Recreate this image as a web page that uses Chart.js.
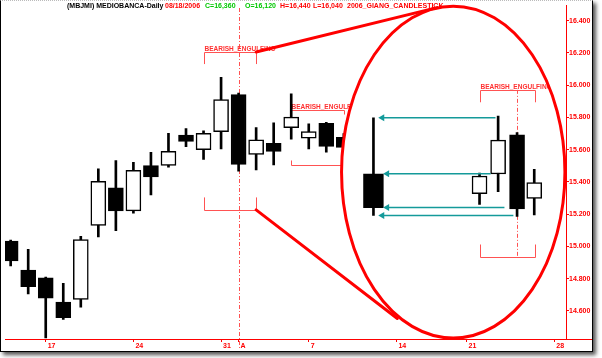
<!DOCTYPE html>
<html>
<head>
<meta charset="utf-8">
<script src="https://cdn.jsdelivr.net/npm/chart.js@4.4.1/dist/chart.umd.min.js"></script>
<style>
  html, body { margin: 0; padding: 0; background: #fff; }
  #frame {
    position: absolute; left: 0; top: 0;
    width: 591px; height: 350px;
    border-left: 1px solid #000; border-right: 1px solid #000;
    border-bottom: 1px solid #000; border-top: 1px dotted #bbb;
    box-shadow: 3px 3px 4px #555;
    background: #fff;
  }
  canvas { display: block; }
</style>
</head>
<body>
<div id="frame"><canvas id="chart" width="591" height="350"></canvas></div>
<script>
// trading days on the chart, x position = index in this list (Aug 15 is a holiday)
const days   = ['07/13','07/14','07/17','07/18','07/19','07/20','07/21','07/24','07/25','07/26',
                '07/27','07/28','07/31','08/01','08/02','08/03','08/04','08/07','08/08','08/09'];
const openV  = [15.033,14.853,14.806,14.655,14.671,15.131,15.363,15.221,15.502,15.502,
                15.690,15.600,15.712,15.941,15.570,15.639,15.737,15.671,15.763,15.676];
const highV  = [15.040,14.982,14.810,14.771,15.063,15.481,15.533,15.522,15.584,15.702,
                15.731,15.717,16.049,15.951,15.737,15.767,15.947,15.761,15.770,15.700];
const lowV   = [14.879,14.706,14.432,14.547,14.624,15.059,15.098,15.206,15.319,15.492,
                15.619,15.539,15.604,15.466,15.475,15.506,15.665,15.604,15.584,15.580];
const closeV = [14.910,14.751,14.679,14.559,15.043,15.404,15.221,15.472,15.431,15.590,
                15.651,15.702,15.910,15.508,15.661,15.590,15.802,15.712,15.620,15.614];

// axis ticks
const xTickPos  = [2, 7, 12, 13, 17, 22, 26, 31];
const xTickText = ['17', '24', '31', 'A', '7', '14', '21', '28'];
const yTicks    = [14.6, 14.8, 15.0, 15.2, 15.4, 15.6, 15.8, 16.0, 16.2, 16.4];

// candles drawn inside the magnifier ellipse
const zoomX     = [26.74, 27.80, 28.88, 29.86];
const zoomOpen  = [15.328, 15.449, 15.692, 15.298];
const zoomHigh  = [15.455, 15.808, 15.706, 15.478];
const zoomLow   = [15.261, 15.339, 15.186, 15.196];
const zoomClose = [15.437, 15.659, 15.233, 15.396];

// the pattern merged into one candle: open, high, low, close
const mergedX    = 20.69;
const mergedOHLC = [15.451, 15.798, 15.192, 15.241];

// teal arrows from the pattern to the merged candle
const arrowY    = [15.798, 15.451, 15.241, 15.192];
const arrowFrom = [27.65, 27.37, 28.16, 28.67];
const arrowTo   = [21.19, 21.47, 21.47, 21.19];

const RED = '#ff0000';
const NOTE_RED = '#ff5252';
const TEAL = '#149a9a';
const FONT = '"Liberation Sans", Arial, sans-serif';

// ellipse (index / price units)
const lensCenter = [25.24, 15.461];
const lensRadius = [6.37, 1.029];

const sx = (chart, v) => chart.scales.x.getPixelForValue(v);
const sy = (chart, v) => chart.scales.y.getPixelForValue(v);
const crisp = p => Math.round(p) + 0.5;

function lensPath(chart) {
  const cx = sx(chart, lensCenter[0]), cy = sy(chart, lensCenter[1]);
  const rx = sx(chart, lensCenter[0] + lensRadius[0]) - cx;
  const ry = sy(chart, lensCenter[1] - lensRadius[1]) - cy;
  chart.ctx.beginPath();
  chart.ctx.ellipse(cx, cy, rx, ry, 0, 0, Math.PI * 2);
}

function dashedMark(chart, at, yTop, yBottom) {
  const ctx = chart.ctx;
  const x = crisp(sx(chart, at));
  ctx.save();
  ctx.strokeStyle = NOTE_RED;
  ctx.lineWidth = 1;
  ctx.setLineDash([4, 2, 1, 2]);
  ctx.beginPath();
  ctx.moveTo(x, yTop);
  ctx.lineTo(x, yBottom);
  ctx.stroke();
  ctx.restore();
}

function brackets(chart, from, to, top, topTick, bottom, bottomTick, label) {
  const ctx = chart.ctx;
  const x0 = crisp(sx(chart, from)), x1 = crisp(sx(chart, to));
  const yt = crisp(sy(chart, top)), yb = crisp(sy(chart, bottom));
  ctx.save();
  ctx.strokeStyle = NOTE_RED;
  ctx.lineWidth = 1;
  ctx.beginPath();
  ctx.moveTo(x0, sy(chart, topTick)); ctx.lineTo(x0, yt); ctx.lineTo(x1, yt); ctx.lineTo(x1, sy(chart, topTick));
  ctx.moveTo(x0, sy(chart, bottomTick)); ctx.lineTo(x0, yb); ctx.lineTo(x1, yb); ctx.lineTo(x1, sy(chart, bottomTick));
  ctx.stroke();
  ctx.fillStyle = '#ff3030';
  ctx.font = 'bold 6.5px ' + FONT;
  ctx.textBaseline = 'alphabetic';
  ctx.fillText(label, x0, yt - 2);
  ctx.restore();
}

const notes = {
  id: 'notes',
  beforeDatasetsDraw(chart) {
    const ctx = chart.ctx;
    // header line
    ctx.save();
    ctx.font = 'bold 7px ' + FONT;
    ctx.textBaseline = 'middle';
    const head = [
      ['(MBJMI) MEDIOBANCA-Daily', '#000', 66],
      ['08/18/2006', RED, 164],
      ['C=16,360', '#00c800', 204],
      ['O=16,120', '#00c800', 244],
      ['H=16,440', RED, 279],
      ['L=16,040', RED, 312],
      ['2006_GIANG_CANDLESTICK', RED, 346]
    ];
    head.forEach(([t, c, x]) => { ctx.fillStyle = c; ctx.fillText(t, x, 5.5); });
    ctx.restore();

    dashedMark(chart, 13, 7, chart.chartArea.bottom + 9);
    brackets(chart, 11, 14, 16.206, 16.131, 15.227, 15.304, 'BEARISH_ENGULFING');
    brackets(chart, 16, 19, 15.849, 15.818, 15.506, 15.533, 'BEARISH_ENGULFING');
  },
  beforeDatasetDraw(chart, args) {
    const ds = chart.data.datasets[args.index];
    if (!ds.lens) return;
    const ctx = chart.ctx;
    ctx.save();
    lensPath(chart);
    ctx.clip();
    if (ds.lensStart) {
      ctx.fillStyle = '#fff';
      ctx.fillRect(0, 0, chart.width, chart.height);
      dashedMark(chart, 28.88, sy(chart, 15.971), sy(chart, 14.935));
      brackets(chart, 26.76, 29.93, 15.971, 15.894, 14.935, 15.012, 'BEARISH_ENGULFING');
    }
  },
  afterDatasetDraw(chart, args) {
    if (chart.data.datasets[args.index].lens) chart.ctx.restore();
  },
  afterDatasetsDraw(chart) {
    const ctx = chart.ctx;
    ctx.save();
    ctx.strokeStyle = RED;
    ctx.lineWidth = 3;
    ctx.lineCap = 'round';
    lensPath(chart);
    ctx.stroke();
    ctx.beginPath();
    ctx.moveTo(sx(chart, 14), sy(chart, 16.206));
    ctx.lineTo(sx(chart, 24.31), sy(chart, 16.481));
    ctx.moveTo(sx(chart, 14), sy(chart, 15.227));
    ctx.lineTo(sx(chart, 22.05), sy(chart, 14.553));
    ctx.stroke();
    // x axis line runs on under the price scale
    const y = crisp(chart.chartArea.bottom);
    ctx.lineWidth = 1;
    ctx.beginPath();
    ctx.moveTo(chart.chartArea.right, y);
    ctx.lineTo(chart.width, y);
    ctx.stroke();
    ctx.restore();
  }
};

const upOrDown = (o, c) => o.map((v, i) => c[i] >= v ? '#fff' : '#000');

const datasets = [
  {
    data: days.map((d, i) => ({ x: i, y: [lowV[i], highV[i]] })),
    backgroundColor: '#000', barThickness: 2, order: 9
  },
  {
    data: days.map((d, i) => ({ x: i, y: [openV[i], closeV[i]] })),
    backgroundColor: upOrDown(openV, closeV), borderColor: '#000', borderWidth: 1.5,
    barThickness: 15, order: 8
  },
  {
    data: zoomX.map((x, i) => ({ x, y: [zoomLow[i], zoomHigh[i]] }))
      .concat([{ x: mergedX, y: [mergedOHLC[2], mergedOHLC[1]] }]),
    backgroundColor: '#000', barThickness: 2, order: 7, lens: true, lensStart: true
  },
  {
    data: zoomX.map((x, i) => ({ x, y: [zoomOpen[i], zoomClose[i]] })),
    backgroundColor: upOrDown(zoomOpen, zoomClose), borderColor: '#000', borderWidth: 1.5,
    barThickness: 15, order: 6, lens: true
  },
  {
    data: [{ x: mergedX, y: [mergedOHLC[0], mergedOHLC[3]] }],
    backgroundColor: '#000', borderColor: '#000', borderWidth: 1.5,
    barThickness: 20, order: 5, lens: true
  }
];

arrowY.forEach((v, i) => {
  datasets.push({
    type: 'line',
    data: [{ x: arrowFrom[i], y: v }, { x: arrowTo[i], y: v }],
    borderColor: TEAL, backgroundColor: TEAL, borderWidth: 1.5,
    pointRadius: [0, 4], pointStyle: 'triangle', pointRotation: -90,
    pointBorderWidth: 0, order: 1, lens: true
  });
});

datasets.forEach(ds => {
  if (!ds.type) { ds.grouped = false; ds.borderSkipped = false; }
});

new Chart(document.getElementById('chart'), {
  type: 'bar',
  data: { datasets },
  options: {
    responsive: false,
    animation: false,
    devicePixelRatio: 1,
    layout: { padding: 0 },
    events: [],
    plugins: { legend: { display: false }, tooltip: { enabled: false } },
    scales: {
      x: {
        type: 'linear', position: 'bottom', offset: false,
        min: -0.3228, max: 31.671,
        afterBuildTicks: s => { s.ticks = xTickPos.map(v => ({ value: v })); },
        afterFit: s => { s.height = 12; },
        grid: { drawOnChartArea: false, tickLength: 3, color: RED, offset: false },
        border: { color: RED, width: 1 },
        ticks: {
          autoSkip: false, maxRotation: 0, minRotation: 0, align: 'start',
          labelOffset: 2, padding: 0, color: RED,
          font: { family: FONT, size: 7, weight: 'bold' },
          callback: v => xTickText[xTickPos.indexOf(v)]
        }
      },
      y: {
        type: 'linear', position: 'right', beginAtZero: false,
        min: 14.426, max: 16.496,
        afterBuildTicks: s => { s.ticks = yTicks.map(v => ({ value: v })); },
        afterFit: s => { s.width = 26; },
        grid: { drawOnChartArea: false, tickLength: 3, color: RED },
        border: { color: RED, width: 1 },
        ticks: {
          padding: 0, color: RED,
          font: { family: FONT, size: 7, weight: 'bold' },
          callback: v => v.toFixed(3)
        }
      }
    }
  },
  plugins: [notes]
});
</script>
</body>
</html>
